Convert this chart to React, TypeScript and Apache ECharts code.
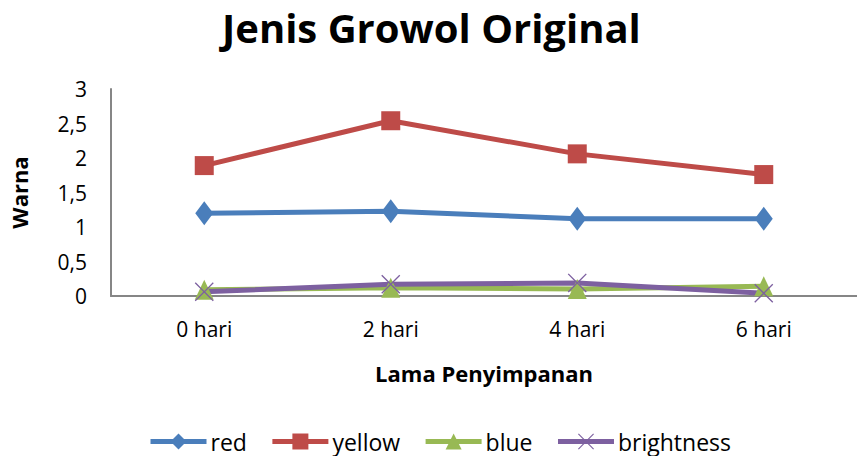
import React, { useEffect, useRef } from "react";
import * as echarts from "echarts";

const categories = ["0 hari", "2 hari", "4 hari", "6 hari"];
const redValues = [1.2, 1.23, 1.12, 1.12];
const yellowValues = [1.89, 2.54, 2.06, 1.76];
const blueValues = [0.09, 0.12, 0.1, 0.14];
const brightnessValues = [0.06, 0.17, 0.19, 0.04];
const seriesNames = ["red", "yellow", "blue", "brightness"];

const X_PATH =
  "path://M0,1 L1,0 L10,9 L19,0 L20,1 L11,10 L20,19 L19,20 L10,11 L1,20 L0,19 L9,10 Z";

export default function App() {
  const ref = useRef<HTMLDivElement>(null);
  useEffect(() => {
    if (!ref.current) return;
    const chart = echarts.init(ref.current, null, { renderer: "svg" });
    const font = "'Open Sans', Roboto, sans-serif";
    chart.setOption({
      animation: false,
      backgroundColor: "#ffffff",
      textStyle: { fontFamily: font, color: "#000" },
      title: {
        text: "Jenis Growol Original",
        left: 217,
        top: 2,
        textStyle: { fontSize: 40, fontWeight: "bold", color: "#000", fontFamily: font },
      },
      legend: {
        data: seriesNames,
        top: 425,
        left: 143,
        padding: 5,
        itemWidth: 56,
        itemHeight: 20,
        itemGap: 23,
        lineStyle: { width: 5 },
        textStyle: { fontSize: 23, lineHeight: 22, color: "#000", fontFamily: font, padding: [0, 0, 0, -1] },
      },
      grid: { left: 103, top: 89, bottom: 160, right: -11, containLabel: false },
      xAxis: {
        type: "category",
        data: categories,
        boundaryGap: true,
        name: "Lama Penyimpanan",
        nameLocation: "middle",
        nameGap: 66,
        nameTextStyle: { fontSize: 22, fontWeight: "bold", color: "#000", fontFamily: font },
        axisLine: { lineStyle: { color: "#868686", width: 2 } },
        axisTick: { show: false },
        axisLabel: { fontSize: 21, color: "#000", margin: 22, fontFamily: font },
        splitLine: { show: false },
      },
      yAxis: {
        type: "value",
        min: 0,
        max: 3,
        interval: 0.5,
        name: "Warna",
        nameLocation: "middle",
        nameGap: 81,
        nameTextStyle: { fontSize: 22, fontWeight: "bold", color: "#000", fontFamily: font },
        axisLine: { show: true, lineStyle: { color: "#868686", width: 2 } },
        axisTick: { show: false },
        axisLabel: {
          fontSize: 21,
          color: "#000",
          margin: 24,
          fontFamily: font,
          formatter: (v: number) => String(v).replace(".", ","),
        },
        splitLine: { show: false },
      },
      series: [
        {
          name: "red",
          type: "line",
          data: redValues,
          symbol: "diamond",
          symbolSize: [18, 24],
          itemStyle: { color: "#4A7EBB" },
          lineStyle: { color: "#4A7EBB", width: 5 },
        },
        {
          name: "yellow",
          type: "line",
          data: yellowValues,
          symbol: "rect",
          symbolSize: 19,
          itemStyle: { color: "#BE4B48" },
          lineStyle: { color: "#BE4B48", width: 5 },
        },
        {
          name: "blue",
          type: "line",
          data: blueValues,
          symbol: "triangle",
          symbolSize: [19, 20],
          itemStyle: { color: "#98B954" },
          lineStyle: { color: "#98B954", width: 5 },
        },
        {
          name: "brightness",
          type: "line",
          data: brightnessValues,
          symbol: X_PATH,
          symbolSize: 19,
          itemStyle: { color: "#7D60A0" },
          lineStyle: { color: "#7D60A0", width: 5 },
        },
      ],
    });
    return () => chart.dispose();
  }, []);
  return (
    <div
      ref={ref}
      style={{ position: "fixed", left: 0, top: 0, width: 857, height: 456 }}
    />
  );
}
